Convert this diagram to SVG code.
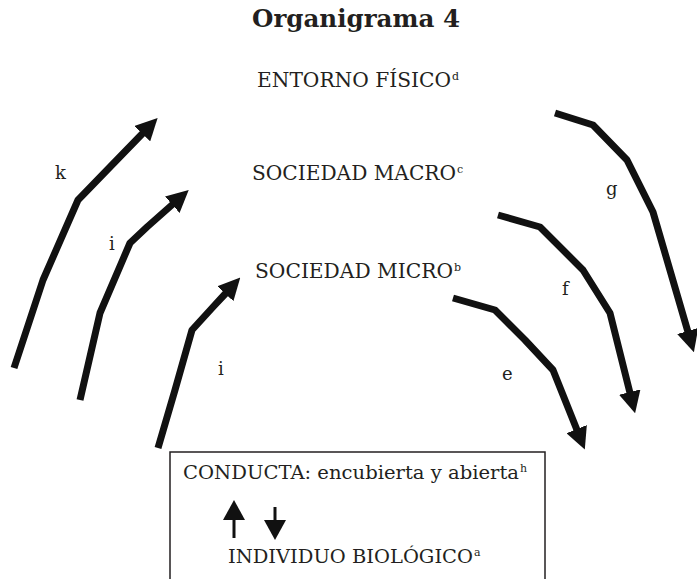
<svg xmlns="http://www.w3.org/2000/svg" width="697" height="579" viewBox="0 0 697 579">
<style>
  .t { font-family: "DejaVu Serif", "Liberation Serif", serif; fill: #231f20; }
  .title { font-size: 25px; font-weight: bold; }
  .lbl { font-size: 20px; }
  .box { font-size: 18px; }
  .sup { font-size: 11px; }
  .let { font-size: 18px; }
  .arc { fill: none; stroke: #111; stroke-width: 7; stroke-linejoin: round; stroke-linecap: butt; marker-end: url(#ah); }
  .small { fill: none; stroke: #111; stroke-width: 3; marker-end: url(#ah2); }
</style>
<defs>
  <marker id="ah" viewBox="0 0 22 22" markerWidth="22" markerHeight="22" refX="1" refY="11" orient="auto" markerUnits="userSpaceOnUse">
    <path d="M0,0 L22,11 L0,22 z" fill="#111"/>
  </marker>
  <marker id="ah2" viewBox="0 0 20 22" markerWidth="20" markerHeight="22" refX="1" refY="11" orient="auto" markerUnits="userSpaceOnUse">
    <path d="M0,0 L20,11 L0,22 z" fill="#111"/>
  </marker>
</defs>
<rect width="697" height="579" fill="#fff"/>

<text class="t title" x="252" y="27" textLength="208" lengthAdjust="spacingAndGlyphs">Organigrama 4</text>

<g id="entorno">
  <text class="t lbl" x="257" y="87" textLength="194" lengthAdjust="spacingAndGlyphs">ENTORNO FÍSICO</text>
  <text class="t sup" x="452" y="80">d</text>
</g>
<g id="macro">
  <text class="t lbl" x="252" y="180" textLength="204" lengthAdjust="spacingAndGlyphs">SOCIEDAD MACRO</text>
  <text class="t sup" x="457" y="173">c</text>
</g>
<g id="micro">
  <text class="t lbl" x="255" y="278" textLength="198" lengthAdjust="spacingAndGlyphs">SOCIEDAD MICRO</text>
  <text class="t sup" x="454" y="271">b</text>
</g>
<g id="individuo">
  <rect x="170" y="452" width="375" height="140" fill="none" stroke="#231f20" stroke-width="1.5"/>
  <text class="t box" x="183" y="479" textLength="336" lengthAdjust="spacingAndGlyphs">CONDUCTA: encubierta y abierta</text>
  <text class="t sup" x="520" y="472">h</text>
  <text class="t box" x="228" y="563" textLength="245" lengthAdjust="spacingAndGlyphs">INDIVIDUO BIOLÓGICO</text>
  <text class="t sup" x="474" y="556">a</text>
  <path class="small" d="M234,538 V519"/>
  <path class="small" d="M275,507 V521"/>
</g>

<g id="connectors">
  <polyline class="arc" points="14,368 43,280 78,200 110,167 143,133"/>
  <polyline class="arc" points="80,400 100,313 130,243 147,227 173,204"/>
  <polyline class="arc" points="158,448 175,390 192,330 213,307 226,293"/>
  <polyline class="arc" points="555,113 593,125 627,160 653,212 688,332"/>
  <polyline class="arc" points="498,215 540,227 583,270 610,313 630,393"/>
  <polyline class="arc" points="453,298 495,310 525,340 553,370 577,430"/>
</g>

<g id="labels">
  <text class="t let" x="55" y="179">k</text>
  <text class="t let" x="109" y="250">i</text>
  <text class="t let" x="218" y="375">i</text>
  <text class="t let" x="606" y="195">g</text>
  <text class="t let" x="562" y="295">f</text>
  <text class="t let" x="502" y="380">e</text>
</g>
</svg>
